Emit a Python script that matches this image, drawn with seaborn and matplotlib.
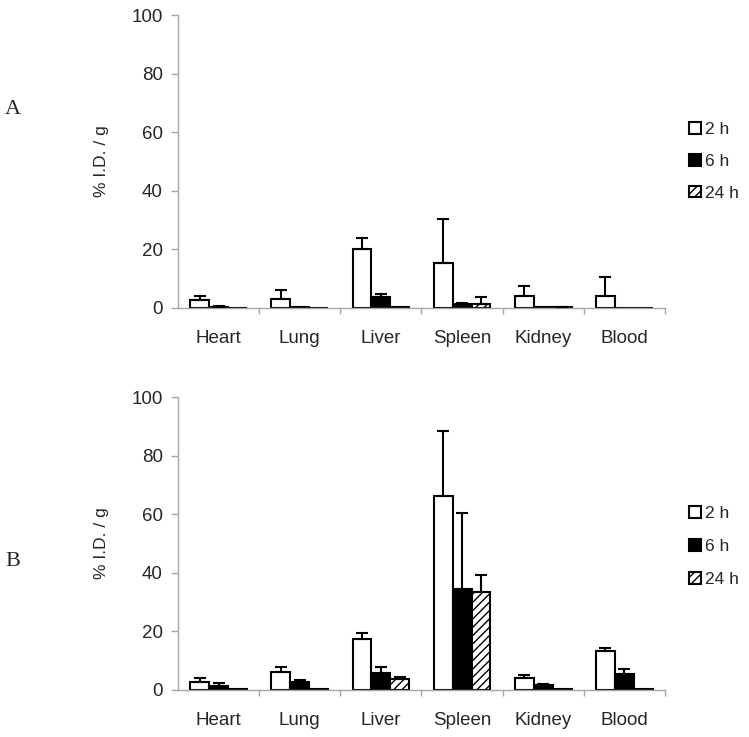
import matplotlib
matplotlib.use("Agg")
import matplotlib.pyplot as plt
from matplotlib.container import BarContainer
import seaborn as sns
import pandas as pd
import numpy as np

organs = ["Heart", "Lung", "Liver", "Spleen", "Kidney", "Blood"]
times = ["2 h", "6 h", "24 h"]

# Panel A values (% I.D./g) and upper error bars
a_2h = [2.6, 3.2, 20.1, 15.3, 4.2, 4.2]
a_6h = [0.4, 0.3, 3.7, 1.4, 0.3, 0.1]
a_24h = [0.1, 0.1, 0.5, 1.5, 0.3, 0.1]
a_err_2h = [1.6, 3.0, 3.8, 15.0, 3.2, 6.4]
a_err_6h = [0.2, 0.0, 1.0, 0.2, 0.0, 0.0]
a_err_24h = [0.0, 0.0, 0.0, 2.1, 0.2, 0.0]

# Panel B values
b_2h = [2.9, 6.2, 17.5, 66.1, 4.1, 13.2]
b_6h = [1.5, 2.6, 5.7, 34.6, 1.8, 5.4]
b_24h = [0.3, 0.3, 3.7, 33.6, 0.5, 0.4]
b_err_2h = [1.1, 1.6, 2.0, 22.4, 1.0, 1.1]
b_err_6h = [0.9, 0.9, 2.2, 25.7, 0.3, 1.8]
b_err_24h = [0.0, 0.0, 0.9, 5.8, 0.0, 0.0]

yticks = [0, 20, 40, 60, 80, 100]
ylabel = "% I.D. / g"
panel_labels = ["A", "B"]

sns.set_style("white")
plt.rcParams["font.family"] = ["Liberation Sans", "DejaVu Sans"]
plt.rcParams["hatch.linewidth"] = 1.0

W, H = 749, 737
fig = plt.figure(figsize=(W / 100, H / 100), dpi=100)

AXC = "#a6a6a6"


def draw_panel(ax, vals, errs, leg_y, leg_sp):
    df = pd.DataFrame({
        "organ": np.repeat([organs], 3, axis=0).ravel(),
        "time": np.repeat(times, len(organs)),
        "value": np.concatenate(vals),
    })
    sns.barplot(data=df, x="organ", y="value", hue="time", order=organs,
                hue_order=times,
                palette={"2 h": "white", "6 h": "black", "24 h": "white"},
                edgecolor="black", linewidth=1.5, width=0.7, saturation=1,
                errorbar=None, legend=False, ax=ax)
    bar_conts = [c for c in ax.containers if isinstance(c, BarContainer)]
    for ci, cont in enumerate(bar_conts):
        for j, bar in enumerate(cont.patches):
            if ci == 2:
                bar.set_hatch("////")
            e = errs[ci][j]
            if e > 0:
                x = bar.get_x() + bar.get_width() / 2
                y = bar.get_height()
                ax.errorbar([x], [y], yerr=[[0], [e]], fmt="none",
                            ecolor="black", elinewidth=1.5, capsize=4.2,
                            capthick=1.5, zorder=5)
    ax.set_xlim(-0.5, 5.5)
    ax.set_ylim(0, 100)
    ax.set_yticks(yticks)
    ax.set_xlabel("")
    ax.set_ylabel(ylabel, fontsize=12.5)
    ax.yaxis.set_label_coords(-0.142, 0.5)
    for s in ["top", "right"]:
        ax.spines[s].set_visible(False)
    for s in ["left", "bottom"]:
        ax.spines[s].set_color(AXC)
        ax.spines[s].set_linewidth(1.0)
    ax.set_xticks(np.arange(0.5, 6.0, 1.0), minor=True)
    ax.tick_params(axis="x", which="major", length=0, pad=15.5, labelsize=13.5)
    ax.tick_params(axis="x", which="minor", length=4, width=1, color=AXC,
                   direction="out", bottom=True)
    ax.tick_params(axis="y", which="major", length=5, width=1, color=AXC,
                   direction="out", left=True, pad=6, labelsize=13.5)
    handles = [c.patches[0] for c in bar_conts]
    ax.legend(handles, times, loc="center left", bbox_to_anchor=(1.049, leg_y),
              frameon=False, fontsize=12.5, borderpad=0, borderaxespad=0,
              handlelength=0.68, handleheight=0.68, handletextpad=0.25,
              labelspacing=leg_sp)


left = 178 / W
width = (665 - 178) / W
axA = fig.add_axes([left, 1 - 308 / H, width, (308 - 15) / H])
axB = fig.add_axes([left, 1 - 690 / H, width, (690 - 397) / H])

draw_panel(axA, [a_2h, a_6h, a_24h], [a_err_2h, a_err_6h, a_err_24h], 0.5, 0.95)
draw_panel(axB, [b_2h, b_6h, b_24h], [b_err_2h, b_err_6h, b_err_24h], 0.49, 1.05)

fig.text(13 / W, 1 - 110 / H, panel_labels[0], family=["Liberation Serif", "DejaVu Serif"],
         fontsize=16, ha="center", va="center")
fig.text(13 / W, 1 - 561 / H, panel_labels[1], family=["Liberation Serif", "DejaVu Serif"],
         fontsize=16, ha="center", va="center")

fig.savefig("out.png", dpi=100, facecolor="white")
